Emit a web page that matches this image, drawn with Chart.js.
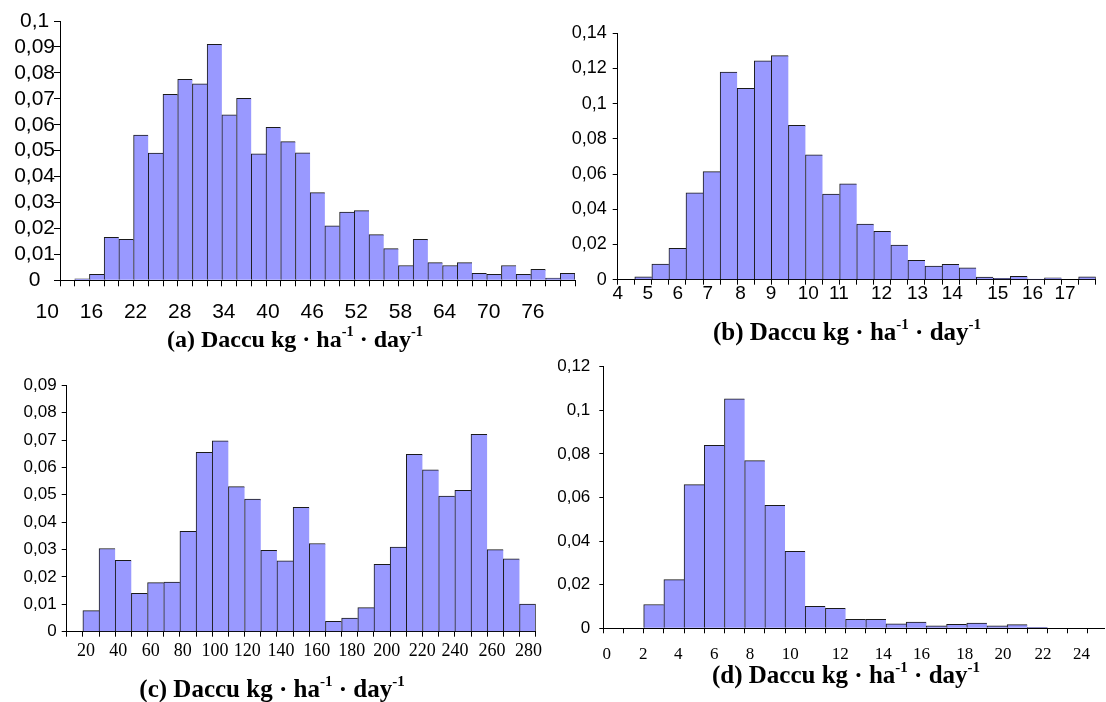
<!DOCTYPE html>
<html lang="en">
<head>
<meta charset="UTF-8">
<title>Daccu histograms</title>
<script src="https://cdn.jsdelivr.net/npm/chart.js@4"></script>
<style>
  body { margin: 0; width: 1106px; height: 702px; background: #fff; position: relative; overflow: hidden; }
  canvas { position: absolute; left: 0; top: 0; }
  .ttl {
    position: absolute; transform: translateX(-50%); white-space: nowrap;
    font: bold 25px "Liberation Serif", "Times New Roman", serif; line-height: 25px; color: #000;
  }
  .ttl sup { font-size: 0.6em; line-height: 0; vertical-align: 0.75em; }
</style>
</head>
<body>
<canvas id="chartA" width="1106" height="702"></canvas>
<canvas id="chartB" width="1106" height="702"></canvas>
<canvas id="chartC" width="1106" height="702"></canvas>
<canvas id="chartD" width="1106" height="702"></canvas>

<div class="ttl" style="left:295px; top:327px; font-size:24px">(a) Daccu kg · ha<sup>-1</sup> · day<sup>-1</sup></div>
<div class="ttl" style="left:847px; top:319px">(b) Daccu kg · ha<sup>-1</sup> · day<sup>-1</sup></div>
<div class="ttl" style="left:272px; top:676px">(c) Daccu kg · ha<sup>-1</sup> · day<sup>-1</sup></div>
<div class="ttl" style="left:846px; top:662px">(d) Daccu kg · ha<sup>-1</sup> · day<sup>-1</sup></div>

<script>
  // ---- data (relative frequencies per bin) ----
  // (a) bins of width 2 starting at 12
  const aStart = 12, aWidth = 2;
  const aValues = [0, 0.0006, 0.0023, 0.0166, 0.0158, 0.056, 0.0491, 0.0717, 0.0775, 0.0758,
    0.091, 0.0638, 0.0702, 0.0488, 0.059, 0.0535, 0.0492, 0.0338, 0.021, 0.0263,
    0.0269, 0.0176, 0.0122, 0.0057, 0.0158, 0.0068, 0.0057, 0.0068, 0.0027, 0.0023,
    0.0057, 0.0023, 0.0042, 0.0009, 0.0027];
  const aTickLabels = ['10', '16', '22', '28', '34', '40', '46', '52', '58', '64', '70', '76'];

  // (b) bins of width 0.5 starting at 4
  const bStart = 4, bWidth = 0.5;
  const bValues = [0, 0.0017, 0.0089, 0.0178, 0.0494, 0.0614, 0.118, 0.1087, 0.1244, 0.1273,
    0.0877, 0.071, 0.0487, 0.0545, 0.0316, 0.0275, 0.0197, 0.011, 0.0078, 0.0087,
    0.0068, 0.0015, 0.0008, 0.0019, 0.0004, 0.0011, 0, 0.0017];
  const bTickLabels = ['4', '5', '6', '7', '8', '9', '10', '11', '12', '13', '14', '15', '16', '17'];

  // (c) bins of width 10 starting at 10
  const cStart = 10, cWidth = 10;
  const cValues = [0, 0.0077, 0.0304, 0.0261, 0.014, 0.0179, 0.0181, 0.0367, 0.0655, 0.0697,
    0.053, 0.0484, 0.0297, 0.0259, 0.0454, 0.0322, 0.0038, 0.005, 0.0088, 0.0246,
    0.0309, 0.0648, 0.0591, 0.0495, 0.0516, 0.0721, 0.03, 0.0266, 0.0101];
  const cTickLabels = ['20', '40', '60', '80', '100', '120', '140', '160', '180', '200', '220', '240', '260', '280'];

  // (d) bins of width 1 starting at 0
  const dStart = 0, dWidth = 1;
  const dValues = [0, 0, 0.0109, 0.0223, 0.0659, 0.0839, 0.1053, 0.0769, 0.0564, 0.0353,
    0.0101, 0.0092, 0.0041, 0.0041, 0.002, 0.0028, 0.0011, 0.0018, 0.0024, 0.0011,
    0.0017, 0.0005, 0, 0];
  const dTickLabels = ['0', '2', '4', '6', '8', '10', '12', '14', '16', '18', '20', '22', '24'];

  // where the (hand placed) tick labels sit on each x axis, in axis units
  const aTickAt = [10, 16, 22, 28, 34, 40, 46, 52, 58, 64, 70, 76];
  const bTickAt = [4, 4.88, 5.76, 6.64, 7.6, 8.49, 9.58, 10.48, 11.73, 12.78, 13.8, 15.13, 16.15, 17.1];
  const cTickAt = [21.9, 41.9, 62, 81.8, 101.7, 121.7, 142.5, 164.6, 186.2, 207.9, 229.9, 250.1, 273, 295.5];
  const dTickAt = [0.17, 1.98, 3.71, 5.49, 7.26, 9.26, 11.73, 13.86, 15.76, 17.9, 19.8, 21.77, 23.68];

  const SANS = '"Liberation Sans", Arial, sans-serif';
  const SERIF = '"Liberation Serif", "Times New Roman", serif';

  function commaFmt(v) {
    if (v === 0) return '0';
    return String(Math.round(v * 100) / 100).replace('.', ',');
  }

  function histogram(id, p) {
    const n = p.values.length;
    const edges = [];
    for (let i = 0; i <= n; i++) edges.push(p.start + i * p.width);
    const borders = p.values.map((v, i) => ({ top: 1, left: 1, right: i === n - 1 ? 1 : 0, bottom: 0 }));

    new Chart(document.getElementById(id), {
      type: 'bar',
      data: {
        datasets: [{
          data: p.values.map((v, i) => ({ x: p.start + (i + 0.5) * p.width, y: v })),
          backgroundColor: '#9999ff',
          borderColor: '#1a1a1a',
          borderWidth: borders,
          barPercentage: 1,
          categoryPercentage: 1
        }]
      },
      options: {
        responsive: false,
        animation: false,
        events: [],
        layout: { padding: p.pad },
        plugins: { legend: { display: false }, tooltip: { enabled: false } },
        scales: {
          x: {
            type: 'linear', position: 'bottom', weight: 0, bounds: 'data', offset: false,
            min: p.start, max: p.xMax,
            afterBuildTicks: s => { s.ticks = edges.map(v => ({ value: v })); },
            afterFit: s => { s.height = 0; },
            ticks: { display: false },
            grid: { offset: false, drawOnChartArea: false, tickLength: p.xTick, tickColor: '#000' },
            border: { color: '#000', width: 1 }
          },
          xl: {
            type: 'linear', position: 'bottom', weight: 1, bounds: 'data', offset: false,
            min: p.start, max: p.xMax,
            afterBuildTicks: s => { s.ticks = p.tickAt.map(v => ({ value: v })); },
            afterFit: s => { s.height = 40; },
            grid: { display: false, drawTicks: false, offset: false },
            border: { display: false },
            ticks: {
              autoSkip: false, maxRotation: 0, color: '#000', padding: p.xPad,
              labelOffset: p.xOff || 0,
              font: { family: p.xFamily, size: p.xSize },
              callback: (v, i) => p.tickLabels[i]
            }
          },
          y: {
            position: 'left', min: 0, max: p.yMax,
            afterFit: s => { s.width = 60; },
            ticks: {
              stepSize: p.yStep, autoSkip: false, color: '#000', padding: p.yPad,
              crossAlign: p.yAlign || 'near',
              font: { family: SANS, size: p.ySize },
              callback: v => commaFmt(v)
            },
            grid: { drawOnChartArea: false, tickLength: p.yTick, tickColor: '#000' },
            border: { color: '#000', width: 1 }
          }
        }
      }
    });
  }

  histogram('chartA', {
    start: aStart, width: aWidth, values: aValues, xMax: 82,
    tickAt: aTickAt, tickLabels: aTickLabels, xOff: 2,
    xFamily: SANS, xSize: 21, xPad: 19, xTick: 6,
    yMax: 0.1, yStep: 0.01, ySize: 21, yPad: -1, yTick: 6, yAlign: 'center',
    pad: { left: 0, top: 21, right: 531, bottom: 381.7 }
  });

  histogram('chartB', {
    start: bStart, width: bWidth, values: bValues, xMax: 18,
    tickAt: bTickAt, tickLabels: bTickLabels,
    xFamily: SANS, xSize: 19, xPad: 3, xTick: 5,
    yMax: 0.14, yStep: 0.02, ySize: 18, yPad: 6, yTick: 5,
    pad: { left: 557.7, top: 33.3, right: 10.3, bottom: 382.3 }
  });

  histogram('chartC', {
    start: cStart, width: cWidth, values: cValues, xMax: 300,
    tickAt: cTickAt, tickLabels: cTickLabels,
    xFamily: SERIF, xSize: 18, xPad: 9, xTick: 5,
    yMax: 0.09, yStep: 0.01, ySize: 17, yPad: 5, yTick: 5,
    pad: { left: 6.7, top: 385.3, right: 570.3, bottom: 30.3 }
  });

  histogram('chartD', {
    start: dStart, width: dWidth, values: dValues, xMax: 24.84,
    tickAt: dTickAt, tickLabels: dTickLabels,
    xFamily: SERIF, xSize: 17, xPad: 16, xTick: 5,
    yMax: 0.12, yStep: 0.02, ySize: 17, yPad: 9, yTick: 4,
    pad: { left: 543.3, top: 366.7, right: 1, bottom: 33.7 }
  });
</script>
</body>
</html>
